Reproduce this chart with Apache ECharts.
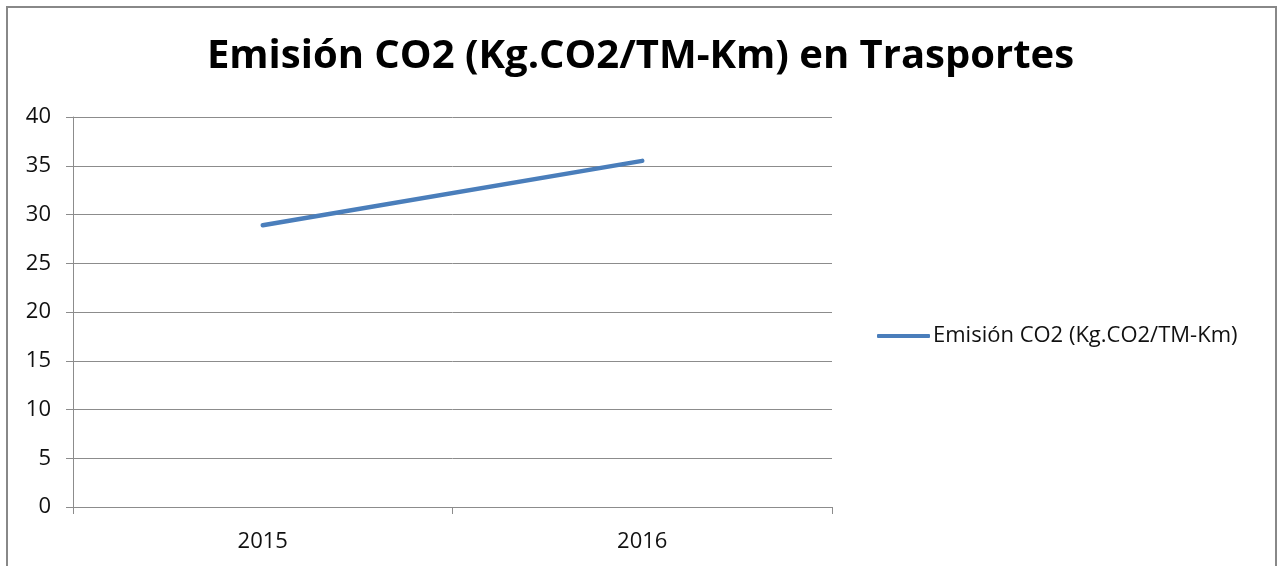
<!DOCTYPE html>
<html>
<head>
    <meta charset="utf-8">
    <title>Emisión CO2</title>
    <script src="https://cdn.jsdelivr.net/npm/echarts@6/dist/echarts.min.js"></script>
    <style>
        body { margin: 0; background: #fff; }
    </style>
</head>
<body>
<div id="main" style="width: 1281px;height:566px;"></div>
<script type="text/javascript">
    var years = ['2015', '2016'];
    var emision = [28.9, 35.5];
    var seriesName = 'Emisión CO2 (Kg.CO2/TM-Km)';

    var myChart = echarts.init(document.getElementById('main'));
    var axisColor = '#8c8c8c';
    var font = 'Open Sans, sans-serif';

    var option = {
        backgroundColor: '#fff',
        animation: false,
        title: {
            text: 'Emisión CO2 (Kg.CO2/TM-Km) en Trasportes',
            left: 'center',
            top: 32,
            textStyle: { fontFamily: font, fontWeight: 'bold', fontSize: 40, color: '#000' }
        },
        // marco gris del gráfico
        graphic: [{
            type: 'rect',
            shape: { x: 7, y: 7, width: 1269, height: 620 },
            style: { fill: 'none', stroke: '#888', lineWidth: 2 }
        }],
        legend: {
            data: [seriesName],
            left: 872,
            top: 320,
            icon: 'roundRect',
            itemWidth: 53,
            itemHeight: 4,
            itemGap: 0,
            textStyle: { fontFamily: font, fontSize: 22, color: '#111', padding: [0, 0, 0, -2] }
        },
        grid: { left: 73, right: 449, top: 117, bottom: 59 },
        xAxis: {
            type: 'category',
            data: years,
            boundaryGap: true,
            axisLine: { lineStyle: { color: axisColor, width: 1 } },
            axisTick: { show: true, length: 7, lineStyle: { color: axisColor } },
            axisLabel: { fontFamily: font, fontSize: 22, color: '#111', margin: 24 }
        },
        yAxis: {
            type: 'value',
            min: 0,
            max: 40,
            interval: 5,
            axisLine: { show: true, lineStyle: { color: axisColor, width: 1 } },
            axisTick: { show: true, length: 7, lineStyle: { color: axisColor } },
            splitLine: { lineStyle: { color: axisColor, width: 1 } },
            axisLabel: { fontFamily: font, fontSize: 22, color: '#111', margin: 22 }
        },
        series: [{
            name: seriesName,
            type: 'line',
            data: emision,
            showSymbol: false,
            symbol: 'none',
            lineStyle: { color: '#4a7ebb', width: 4.5, cap: 'round' },
            itemStyle: { color: '#4a7ebb' }
        }]
    };

    myChart.setOption(option);
</script>
</body>
</html>
